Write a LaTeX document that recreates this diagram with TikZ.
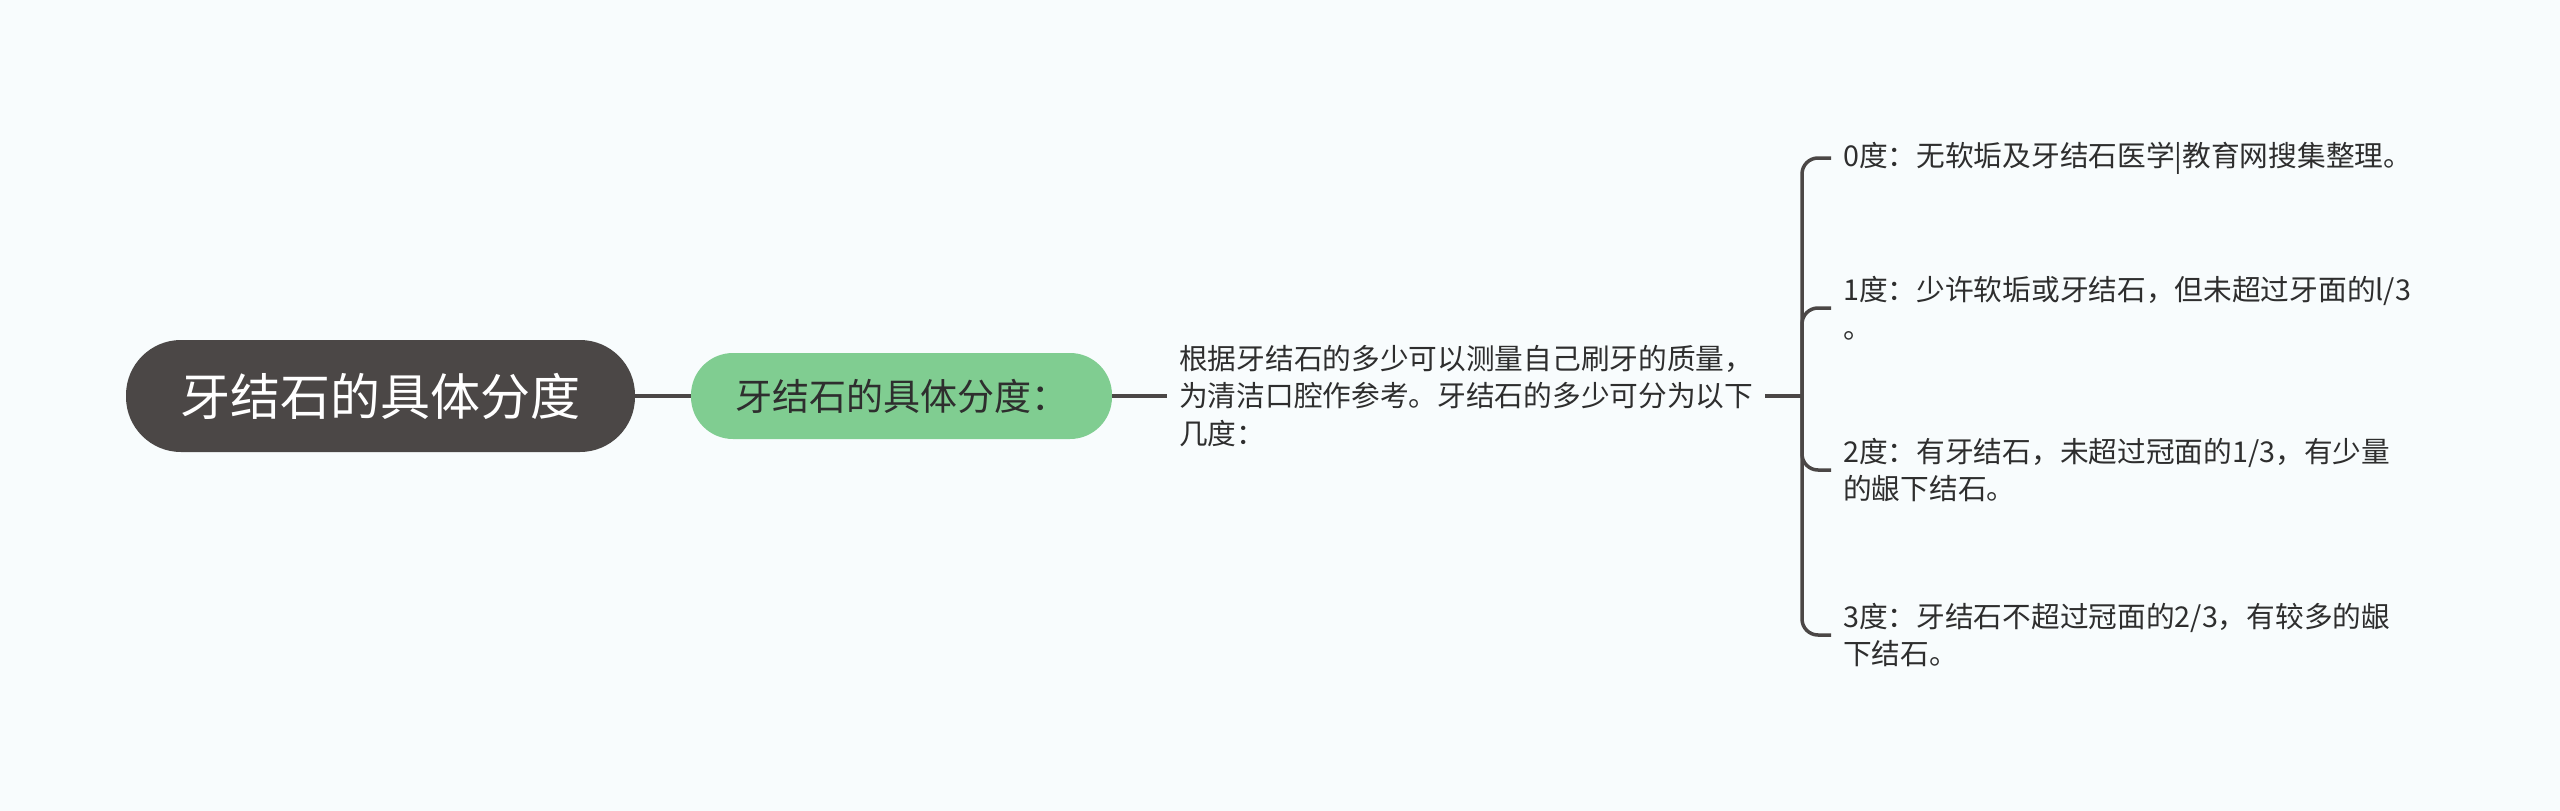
\documentclass[tikz,border=0pt]{standalone}
\usepackage{fontspec}
\setmainfont{Noto Sans CJK SC}
\definecolor{bgc}{HTML}{F8FCFD}
\definecolor{rootc}{HTML}{4B4746}
\definecolor{greenc}{HTML}{80CD91}
\definecolor{linec}{HTML}{4B4746}
\definecolor{txtc}{HTML}{2E2E2E}
\begin{document}
\begin{tikzpicture}[x=1pt,y=-1pt,
  rootnode/.style={fill=rootc, text=white, rounded corners=55pt, minimum width=509pt, minimum height=112pt, inner sep=0pt, font=\fontsize{50}{60}\selectfont},
  subnode/.style={fill=greenc, text=txtc, rounded corners=42pt, minimum width=421pt, minimum height=86pt, inner sep=0pt, font=\fontsize{37}{44}\selectfont},
  plain/.style={text=txtc, align=left, inner sep=12pt, font=\fontsize{28.7}{37.5}\selectfont},
  conn/.style={draw=linec, line width=3.5pt},
  brk/.style={draw=linec, line width=3.5pt, rounded corners=16pt}]
\fill[bgc] (0,0) rectangle (2560,811);
\useasboundingbox (0,0) rectangle (2560,811);
\node[rootnode] (root) at (380.5,396) {牙结石的具体分度};
\node[subnode] (sub) at (901.5,396) {牙结石的具体分度：};
\node[plain, anchor=west] (mid) at (1167,396) {根据牙结石的多少可以测量自己刷牙的质量，\\为清洁口腔作参考。牙结石的多少可分为以下\\几度：};
\coordinate (hub) at (1802,396);
\node[plain, anchor=west] (l0) at (1831,158) {0度：无软垢及牙结石医学|教育网搜集整理。};
\node[plain, anchor=west] (l1) at (1831,308) {1度：少许软垢或牙结石，但未超过牙面的l/3\\。};
\node[plain, anchor=west] (l2) at (1831,470) {2度：有牙结石，未超过冠面的1/3，有少量\\的龈下结石。};
\node[plain, anchor=west] (l3) at (1831,635) {3度：牙结石不超过冠面的2/3，有较多的龈\\下结石。};
\draw[conn] (root.east) -- (sub.west);
\draw[conn] (sub.east) -- (mid.west);
\draw[conn] (mid.east) -- (hub);
\draw[brk] (hub) |- (l0.west);
\draw[brk] (hub) |- (l1.west);
\draw[brk] (hub) |- (l2.west);
\draw[brk] (hub) |- (l3.west);
\end{tikzpicture}
\end{document}
